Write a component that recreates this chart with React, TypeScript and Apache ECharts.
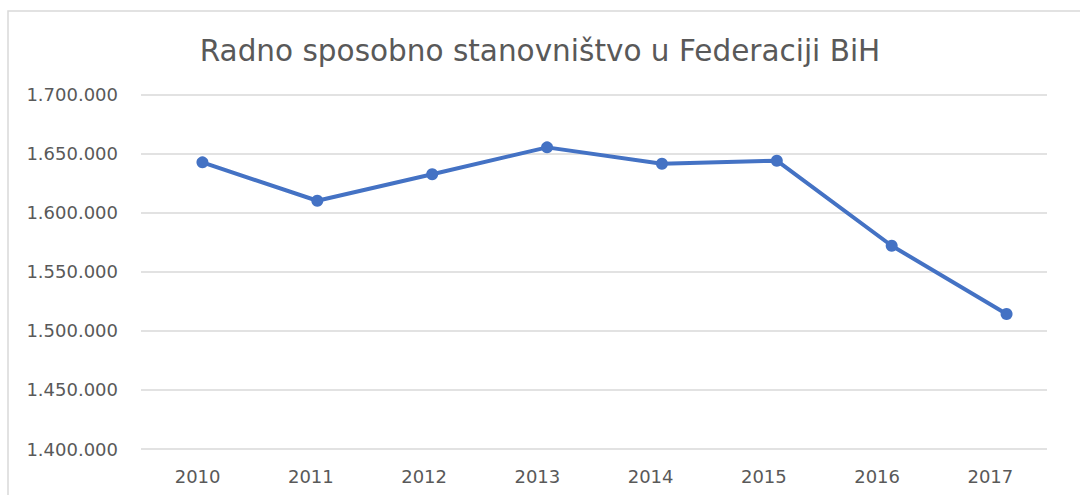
import React, { useEffect, useRef } from "react";
import * as echarts from "echarts";

const years = ["2010", "2011", "2012", "2013", "2014", "2015", "2016", "2017"];
const population = [1642700, 1610200, 1632600, 1655400, 1641500, 1644100, 1572100, 1514300];
const titleText = "Radno sposobno stanovništvo u Federaciji BiH";
const yMin = 1400000;
const yMax = 1700000;
const yStep = 50000;

const fmt = (v: number) => String(Math.round(v)).replace(/\B(?=(\d{3})+(?!\d))/g, ".");

export default function App() {
  const ref = useRef<HTMLDivElement>(null);
  useEffect(() => {
    if (!ref.current) return;
    const chart = echarts.init(ref.current, undefined, { renderer: "svg" });
    const font = "DejaVu Sans";
    chart.setOption({
      animation: false,
      backgroundColor: "#ffffff",
      title: {
        text: titleText,
        left: "center",
        top: 31,
        textStyle: { fontFamily: font, fontSize: 29.5, fontWeight: "normal", color: "#595959" },
      },
      graphic: [
        {
          type: "rect",
          shape: { x: 8, y: 11, width: 1200, height: 600 },
          style: { fill: "none", stroke: "#d9d9d9", lineWidth: 1.5 },
          silent: true,
        },
      ],
      grid: [
        { left: 141, right: 33, top: 94.7, bottom: 46, containLabel: false },
        { left: 145, right: 16, top: 94.7, bottom: 46, containLabel: false },
      ],
      xAxis: [
        {
          type: "category",
          gridIndex: 0,
          data: years,
          boundaryGap: true,
          axisLine: { show: false },
          axisTick: { show: false },
          axisLabel: { fontFamily: font, fontSize: 18, color: "#595959", margin: 18 },
        },
        {
          type: "category",
          gridIndex: 1,
          data: years,
          boundaryGap: true,
          show: false,
        },
      ],
      yAxis: [
        {
          type: "value",
          gridIndex: 0,
          min: yMin,
          max: yMax,
          interval: yStep,
          axisLine: { show: false },
          axisTick: { show: false },
          axisLabel: { fontFamily: font, fontSize: 18, color: "#595959", margin: 23, formatter: fmt },
          splitLine: { lineStyle: { color: "#d9d9d9", width: 1.5 } },
        },
        {
          type: "value",
          gridIndex: 1,
          min: yMin,
          max: yMax,
          interval: yStep,
          show: false,
          splitLine: { show: false },
        },
      ],
      series: [
        {
          type: "line",
          xAxisIndex: 1,
          yAxisIndex: 1,
          data: population,
          symbol: "circle",
          symbolSize: 12,
          lineStyle: { color: "#4472C4", width: 4 },
          itemStyle: { color: "#4472C4" },
        },
      ],
    });
    return () => chart.dispose();
  }, []);
  return <div ref={ref} style={{ position: "fixed", left: 0, top: 0, width: 1080, height: 495 }} />;
}
